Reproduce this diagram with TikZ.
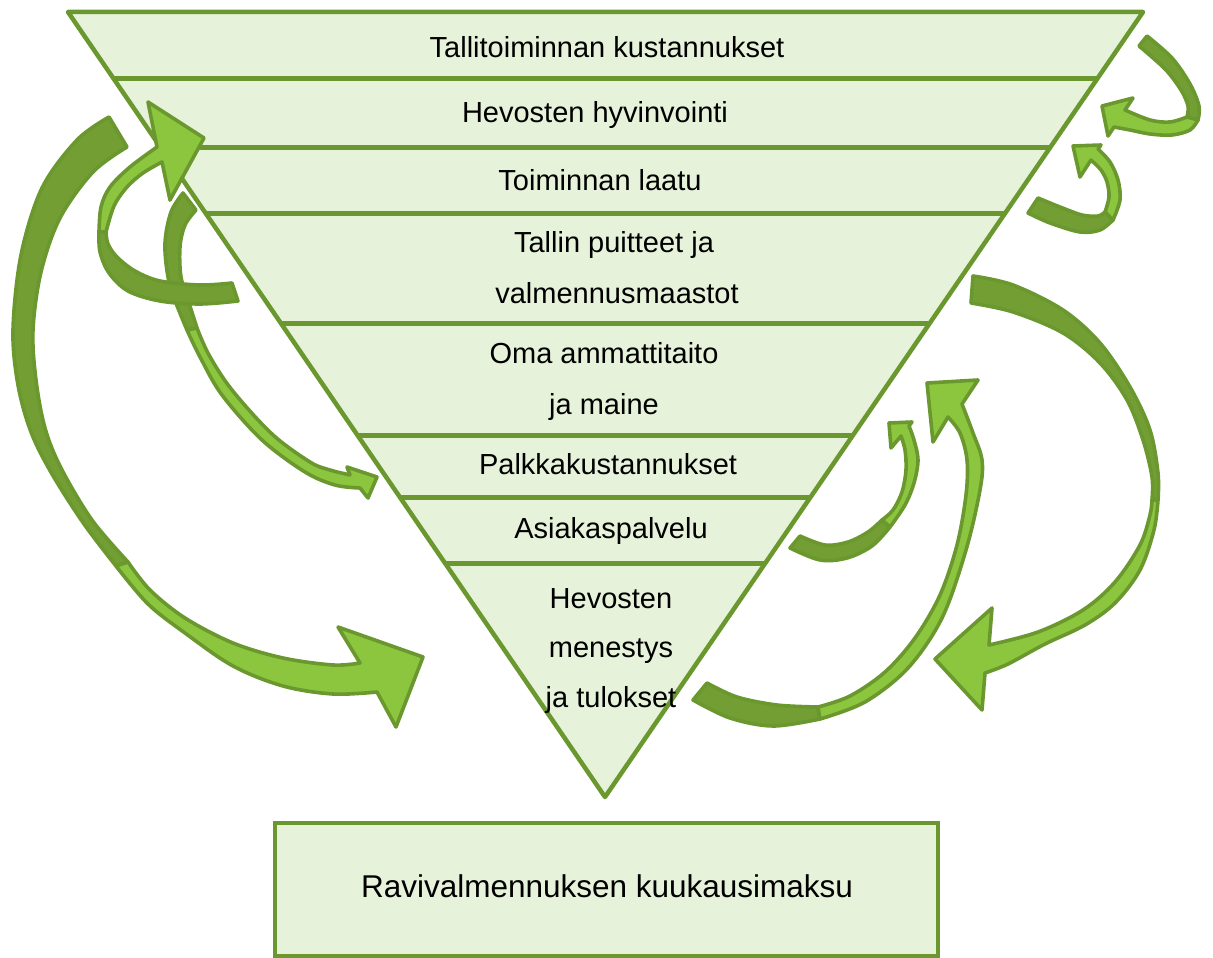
\documentclass[tikz,border=0pt]{standalone}
\usepackage{fontspec}
\setmainfont{Liberation Sans}
\usetikzlibrary{calc}
\definecolor{bandfill}{RGB}{230,242,218}
\definecolor{edgegreen}{RGB}{106,152,46}
\definecolor{arrowdark}{RGB}{115,158,52}
\definecolor{arrowlight}{RGB}{140,198,63}
\begin{document}
\begin{tikzpicture}[x=1pt,y=-1pt,
  funnel/.style={draw=edgegreen,line width=4.5pt,line join=round},
  divider/.style={draw=edgegreen,line width=5pt},
  bandtext/.style={font=\fontsize{29}{35}\selectfont,anchor=base,inner sep=0pt},
  feebox/.style={draw=edgegreen,fill=bandfill,line width=4.5pt,inner sep=0pt,
    minimum width=663pt,minimum height=133pt},
  feetext/.style={font=\fontsize{31.5}{38}\selectfont,anchor=base,inner sep=0pt},
  back/.style={fill=arrowdark,draw=edgegreen,line width=3.6pt,line join=round},
  front/.style={fill=arrowlight,draw=edgegreen,line width=3.6pt,line join=round},
  sm/.style={smooth,tension=0.55}]
\useasboundingbox (0,0) rectangle (1213,958);

% inverted funnel with its bands
\coordinate (TL) at (68,12);
\coordinate (TR) at (1143,12);
\coordinate (AP) at (605,797);
\fill[bandfill] (TL) -- (TR) -- (AP) -- cycle;
\begin{scope}
  \clip (TL) -- (TR) -- (AP) -- cycle;
  \foreach \t in {0.0841,0.1732,0.2561,0.3962,0.5389,0.6191,0.7019}
    \draw[divider] ($(TL)!\t!(AP)+(-10,0)$) -- ($(TR)!\t!(AP)+(10,0)$);
\end{scope}
\draw[funnel] (TL) -- (TR) -- (AP) -- cycle;

% band labels
\node[bandtext] (t1) at (607,58) {Tallitoiminnan kustannukset};
\node[bandtext] (t2) at (595,122) {Hevosten hyvinvointi};
\node[bandtext] (t3) at (600,190) {Toiminnan laatu};
\node[bandtext] (t4) at (614,252) {Tallin puitteet ja};
\node[bandtext] (t5) at (617,303) {valmennusmaastot};
\node[bandtext] (t6) at (604,363) {Oma ammattitaito};
\node[bandtext] (t7) at (604,414) {ja maine};
\node[bandtext] (t8) at (608,474) {Palkkakustannukset};
\node[bandtext] (t9) at (611,538) {Asiakaspalvelu};
\node[bandtext] (t10) at (611,608) {Hevosten};
\node[bandtext] (t11) at (611,657) {menestys};
\node[bandtext] (t12) at (611,707) {ja tulokset};

% monthly fee box
\node[feebox] (fee) at (606.5,889.5) {};
\node[feetext] (feelabel) at (607,897) {Ravivalmennuksen kuukausimaksu};

% left: thin arrow towards the wage costs
\path[back] plot[sm] coordinates {(183,193) (171,212) (165,243) (168,277) (176,303) (187,330)}
  -- plot[sm] coordinates {(197,328) (189,303) (181,277) (180,247) (185,225) (196,210)} -- cycle;
\path[front] plot[sm] coordinates {(187,330) (200,357) (222,395) (262,440) (305,472) (335,485) (360,488)}
  -- (368,498) -- (377,477) -- (347,467)
  -- plot[sm] coordinates {(350,475) (330,470) (310,462) (272,434) (232,390) (209,355) (197,328)} -- cycle;

% left: loop up to the welfare band
\path[back] plot[sm] coordinates {(232,283) (200,285) (160,281) (135,271) (117,257) (108,244) (106,232)}
  -- plot[sm] coordinates {(99,232) (100,252) (109,273) (128,291) (160,301) (200,304) (238,301)} -- cycle;
\path[front] plot[sm] coordinates {(99,232) (101,207) (110,187) (130,167) (157,147)}
  -- (148,102) -- (204,138) -- (170,200)
  -- plot[sm] coordinates {(162,162) (143,173) (127,187) (114,206) (106,232)} -- cycle;

% left: big arc down to the results
\path[back] plot[sm] coordinates {(109,117) (77,140) (42,188) (21,255) (13,330) (18,385) (31,432) (52,474) (84,524) (116,566)}
  -- plot[sm] coordinates {(128,562) (92,520) (61,468) (45,428) (36,380) (33,330) (41,272) (60,218) (93,172) (127,147)} -- cycle;
\path[front] plot[sm] coordinates {(116,566) (148,604) (185,633) (233,666) (283,686) (333,694) (377,692)}
  -- (396,727) -- (423,657) -- (338,627)
  -- plot[sm] coordinates {(360,663) (333,665) (283,658) (233,643) (185,618) (150,590) (128,562)} -- cycle;

% right: small loop at the top
\path[back] plot[sm] coordinates {(1147,36) (1172,58) (1190,84) (1199,106) (1198,120)}
  -- plot[sm] coordinates {(1187,117) (1188,106) (1181,90) (1165,69) (1139,46)} -- cycle;
\path[front] plot[sm] coordinates {(1198,120) (1190,130) (1172,135) (1150,134) (1130,130) (1114,127)}
  -- (1108,136) -- (1102,106) -- (1133,98)
  -- plot[sm] coordinates {(1125,110) (1150,120) (1170,122) (1187,117)} -- cycle;

% right: second small loop
\path[back] plot[sm] coordinates {(1028,213) (1050,223) (1080,232) (1100,230) (1113,220)}
  -- plot[sm] coordinates {(1105,212) (1098,216) (1082,215) (1060,207) (1038,198)} -- cycle;
\path[front] plot[sm] coordinates {(1113,220) (1120,200) (1118,180) (1110,162) (1098,149)}
  -- (1101,145) -- (1073,146) -- (1080,177)
  -- plot[sm] coordinates {(1091,160) (1101,170) (1107,182) (1109,197) (1105,212)} -- cycle;

% right: from customer service up
\path[back] plot[sm] coordinates {(790,548) (820,560) (847,558) (872,546) (890,527)}
  -- plot[sm] coordinates {(882,520) (868,532) (848,542) (825,545) (800,536)} -- cycle;
\path[front] plot[sm] coordinates {(890,527) (905,505) (914,483) (918,460) (914,440) (909,426)}
  -- (912,422) -- (889,423) -- (891,448)
  -- plot[sm] coordinates {(901,436) (905,450) (906,470) (902,492) (893,510) (882,520)} -- cycle;

% right: from the results up
\path[back] plot[sm] coordinates {(693,700) (730,718) (773,726) (820,719)}
  -- plot[sm] coordinates {(818,707) (777,705) (737,697) (707,683)} -- cycle;
\path[front] plot[sm] coordinates {(820,719) (865,702) (908,668) (942,618) (966,550) (980,490) (982,460) (973,433) (962,404)}
  -- (978,380) -- (927,383) -- (933,442)
  -- plot[sm] coordinates {(948,417) (960,433) (967,460) (966,495) (957,545) (940,595) (915,638) (885,672) (850,696) (818,707)} -- cycle;

% right: big arc down to the results
\path[back] plot[sm] coordinates {(973,276) (1013,285) (1063,310) (1100,343) (1130,387) (1150,430) (1158,473) (1158,500)}
  -- plot[sm] coordinates {(1152,500) (1152,477) (1143,440) (1127,400) (1100,363) (1063,333) (1013,312) (971,303)} -- cycle;
\path[front] plot[sm] coordinates {(1158,500) (1154,530) (1140,570) (1115,603) (1085,625) (1045,644) (1008,664) (985,673)}
  -- (982,710) -- (935,659) -- (992,608)
  -- plot[sm] coordinates {(989,645) (1038,632) (1083,610) (1115,582) (1140,545) (1150,515) (1152,500)} -- cycle;
\end{tikzpicture}
\end{document}
